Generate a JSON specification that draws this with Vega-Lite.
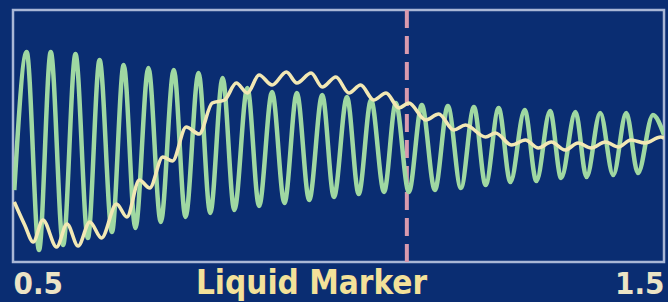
{
  "$schema": "https://vega.github.io/schema/vega-lite/v6.json",
  "autosize": "none",
  "width": 651,
  "height": 252,
  "padding": {"left": 13, "top": 10, "right": 4, "bottom": 40},
  "background": "#0a2d72",
  "config": {
    "view": {"stroke": "#a9b7d6", "strokeWidth": 2.5, "fill": "#0a2d72"}
  },
  "datasets": {
    "green": [
      {"t": 0.502, "v": 72}, {"t": 0.521, "v": 210}, {"t": 0.540, "v": 12}, {"t": 0.558, "v": 210},
      {"t": 0.577, "v": 17}, {"t": 0.596, "v": 208}, {"t": 0.615, "v": 24}, {"t": 0.633, "v": 202},
      {"t": 0.652, "v": 30}, {"t": 0.670, "v": 197}, {"t": 0.688, "v": 34}, {"t": 0.708, "v": 194},
      {"t": 0.727, "v": 40}, {"t": 0.747, "v": 192}, {"t": 0.765, "v": 45}, {"t": 0.785, "v": 189},
      {"t": 0.803, "v": 49}, {"t": 0.822, "v": 184}, {"t": 0.840, "v": 52}, {"t": 0.860, "v": 174},
      {"t": 0.878, "v": 56}, {"t": 0.898, "v": 170}, {"t": 0.917, "v": 59}, {"t": 0.936, "v": 169},
      {"t": 0.955, "v": 62}, {"t": 0.975, "v": 167}, {"t": 0.993, "v": 65}, {"t": 1.013, "v": 165},
      {"t": 1.031, "v": 68}, {"t": 1.050, "v": 162}, {"t": 1.070, "v": 70}, {"t": 1.088, "v": 159},
      {"t": 1.108, "v": 70}, {"t": 1.128, "v": 157}, {"t": 1.148, "v": 72}, {"t": 1.168, "v": 156},
      {"t": 1.188, "v": 74}, {"t": 1.208, "v": 155}, {"t": 1.226, "v": 77}, {"t": 1.246, "v": 154},
      {"t": 1.264, "v": 80}, {"t": 1.286, "v": 152}, {"t": 1.304, "v": 81}, {"t": 1.325, "v": 151},
      {"t": 1.342, "v": 84}, {"t": 1.364, "v": 150}, {"t": 1.381, "v": 85}, {"t": 1.402, "v": 149},
      {"t": 1.422, "v": 87}, {"t": 1.442, "v": 149}, {"t": 1.460, "v": 89}, {"t": 1.483, "v": 147},
      {"t": 1.500, "v": 127}
    ],
    "yellow": [
      {"t": 0.502, "v": 60}, {"t": 0.518, "v": 37}, {"t": 0.531, "v": 20}, {"t": 0.546, "v": 42},
      {"t": 0.567, "v": 15}, {"t": 0.583, "v": 38}, {"t": 0.600, "v": 16}, {"t": 0.618, "v": 40},
      {"t": 0.636, "v": 24}, {"t": 0.659, "v": 58}, {"t": 0.675, "v": 45}, {"t": 0.694, "v": 82},
      {"t": 0.710, "v": 74}, {"t": 0.730, "v": 105}, {"t": 0.745, "v": 101}, {"t": 0.766, "v": 135},
      {"t": 0.786, "v": 128}, {"t": 0.806, "v": 159}, {"t": 0.825, "v": 162}, {"t": 0.843, "v": 179},
      {"t": 0.860, "v": 169}, {"t": 0.878, "v": 187}, {"t": 0.898, "v": 177}, {"t": 0.920, "v": 190},
      {"t": 0.936, "v": 179}, {"t": 0.958, "v": 189}, {"t": 0.975, "v": 175}, {"t": 0.996, "v": 185},
      {"t": 1.016, "v": 169}, {"t": 1.034, "v": 177}, {"t": 1.054, "v": 162}, {"t": 1.073, "v": 169},
      {"t": 1.093, "v": 154}, {"t": 1.108, "v": 159}, {"t": 1.134, "v": 142}, {"t": 1.154, "v": 148},
      {"t": 1.177, "v": 132}, {"t": 1.195, "v": 137}, {"t": 1.226, "v": 125}, {"t": 1.241, "v": 129},
      {"t": 1.266, "v": 117}, {"t": 1.287, "v": 122}, {"t": 1.307, "v": 114}, {"t": 1.327, "v": 120},
      {"t": 1.348, "v": 112}, {"t": 1.368, "v": 119}, {"t": 1.388, "v": 114}, {"t": 1.410, "v": 120},
      {"t": 1.430, "v": 115}, {"t": 1.449, "v": 122}, {"t": 1.471, "v": 119}, {"t": 1.495, "v": 125},
      {"t": 1.500, "v": 124}
    ],
    "marker": [{"t": 1.105}]
  },
  "layer": [
    {
      "data": {"name": "marker"},
      "mark": {"type": "rule", "color": "#d99aae", "strokeWidth": 4, "strokeDash": [18, 8]},
      "encoding": {
        "x": {"field": "t", "type": "quantitative", "scale": {"domain": [0.5, 1.5], "nice": false, "zero": false}}
      }
    },
    {
      "data": {"name": "green"},
      "mark": {"type": "line", "color": "#9fd8a2", "strokeWidth": 4.5, "interpolate": "monotone", "clip": true},
      "encoding": {
        "x": {"field": "t", "type": "quantitative"},
        "y": {"field": "v", "type": "quantitative", "scale": {"domain": [0, 252], "nice": false, "zero": false}, "axis": null}
      }
    },
    {
      "data": {"name": "yellow"},
      "mark": {"type": "line", "color": "#f2e8b4", "strokeWidth": 3.6, "interpolate": "monotone", "clip": true},
      "encoding": {
        "x": {
          "field": "t", "type": "quantitative",
          "scale": {"domain": [0.5, 1.5], "nice": false, "zero": false},
          "axis": {
            "values": [0.5, 1.5], "format": ".1f", "labelFlush": true, "domain": false, "ticks": false, "tickSize": 0, "grid": false,
            "labelFont": "DejaVu Sans Condensed", "labelFontWeight": "bold", "labelFontSize": 31, "labelColor": "#ece4c6",
            "labelBaseline": "alphabetic", "labelPadding": 31,
            "title": "Liquid Marker", "titleFont": "DejaVu Sans Condensed", "titleFontWeight": "bold", "titleFontSize": 33,
            "titleColor": "#f3e199", "titleX": 298, "titleY": 31, "titleAlign": "center", "titleBaseline": "alphabetic"
          }
        },
        "y": {"field": "v", "type": "quantitative", "scale": {"domain": [0, 252], "nice": false, "zero": false}, "axis": null}
      }
    }
  ]
}
